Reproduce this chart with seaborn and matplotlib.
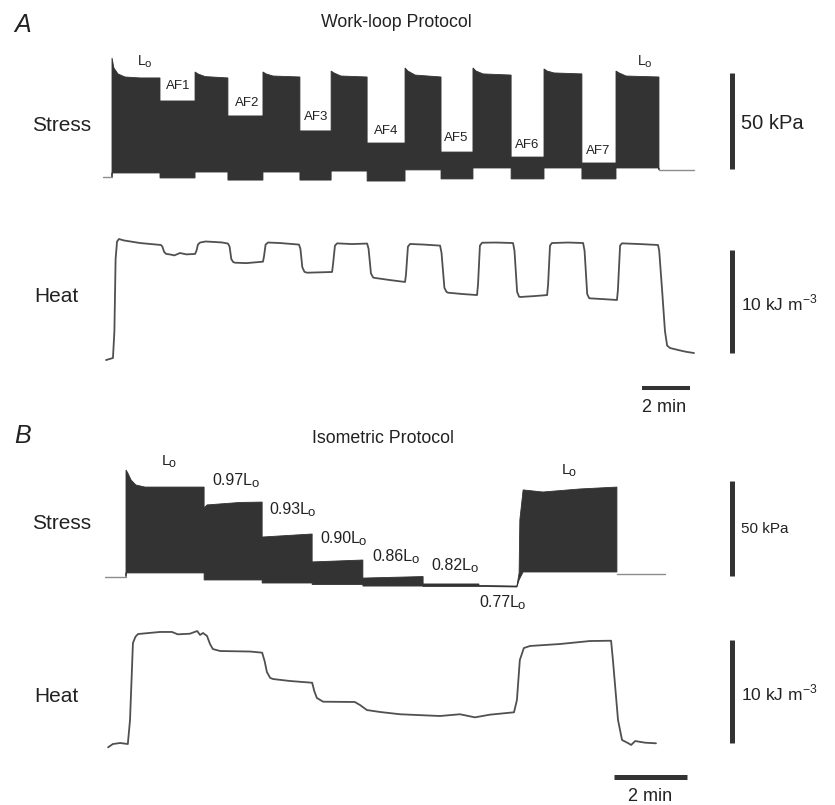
import matplotlib
matplotlib.use("Agg")
import matplotlib.pyplot as plt
import numpy as np
import pandas as pd
import seaborn as sns
from matplotlib.font_manager import FontProperties
from matplotlib.textpath import TextPath
from matplotlib.transforms import offset_copy

W, H = 835, 805

# ---------------- A: work-loop protocol ----------------
# stress envelope of the work loops, time in min, stress in kPa
wl_top_t = [0.0, 0.0, 0.08, 0.25, 0.54, 1.17, 2.0, 2.0, 3.46, 3.46, 3.58,
            3.88, 4.83, 4.83, 6.29, 6.29, 6.42, 6.71, 7.83, 7.83, 9.13, 9.13,
            9.25, 9.54, 10.63, 10.63, 12.21, 12.21, 12.33, 12.63, 13.71,
            13.71, 15.04, 15.04, 15.17, 15.46, 16.63, 16.63, 18.0, 18.0,
            18.13, 18.42, 19.58, 19.58, 21.0, 21.0, 21.13, 21.42, 22.79, 22.79]
wl_top_kpa = [2.6, 64.6, 59.4, 56.3, 54.7, 54.2, 54.2, 42.2, 42.2, 57.3,
              56.3, 54.9, 54.2, 34.4, 34.4, 57.3, 56.3, 55.2, 54.7, 26.6,
              26.6, 57.8, 56.8, 55.2, 54.7, 20.3, 20.3, 59.4, 57.8, 55.7,
              54.7, 15.6, 15.6, 59.4, 57.8, 56.3, 55.7, 13.0, 13.0, 58.9,
              57.8, 56.8, 56.3, 9.9, 9.9, 57.8, 56.8, 55.2, 54.7, 6.3]
wl_bot_t = [0.0, 0.0, 2.0, 2.0, 3.46, 3.46, 4.83, 4.83, 6.29, 6.29, 7.83,
            7.83, 9.13, 9.13, 10.63, 10.63, 12.21, 12.21, 13.71, 13.71, 15.04,
            15.04, 16.63, 16.63, 18.0, 18.0, 19.58, 19.58, 21.0, 21.0, 22.79,
            22.79]
wl_bot_kpa = [2.6, 4.7, 4.7, 2.1, 2.1, 5.2, 5.2, 1.0, 1.0, 5.2, 5.2, 1.0,
              1.0, 5.7, 5.7, 0.5, 0.5, 6.3, 6.3, 1.6, 1.6, 7.3, 7.3, 1.6, 1.6,
              7.3, 7.3, 1.6, 1.6, 7.3, 7.3, 6.3]
wl_pre_t, wl_pre_kpa = [-0.38, 0.0], [2.6, 2.6]
wl_post_t, wl_post_kpa = [22.79, 24.25], [6.3, 6.3]

# heat trace, kJ m^-3
wl_heat_t = [-0.25, 0.04, 0.1, 0.15, 0.21, 0.29, 0.5, 1.17, 2.04,
             2.1, 2.17, 2.25, 2.42, 2.6, 2.83, 3.1, 3.46,
             3.52, 3.58, 3.67, 3.9, 4.29, 4.6, 4.83,
             4.9, 4.97, 5.05, 5.13, 5.6, 6.29,
             6.33, 6.4, 6.5, 7.0, 7.79,
             7.85, 7.93, 8.02, 8.13, 8.6, 9.17,
             9.21, 9.29, 9.38, 10.0, 10.63,
             10.69, 10.79, 10.88, 10.96, 11.6, 12.21,
             12.25, 12.33, 12.42, 13.0, 13.67,
             13.73, 13.85, 13.94, 14.0, 14.6, 15.21,
             15.25, 15.33, 15.42, 16.0, 16.71,
             16.77, 16.88, 16.96, 17.0, 17.6, 18.13,
             18.17, 18.25, 18.33, 19.0, 19.63,
             19.69, 19.8, 19.88, 19.92, 20.5, 21.04,
             21.08, 21.17, 21.25, 22.0, 22.75,
             22.8, 22.92, 23.04, 23.13, 23.25, 23.58, 23.9, 24.25]
wl_heat = [0.19, 0.39, 3.0, 10.0, 11.7, 11.94, 11.8, 11.55, 11.36,
           11.2, 10.7, 10.5, 10.44, 10.35, 10.58, 10.45, 10.49,
           10.8, 11.4, 11.6, 11.7, 11.65, 11.6, 11.5,
           11.2, 10.0, 9.7, 9.64, 9.6, 9.74,
           10.2, 11.4, 11.6, 11.55, 11.4,
           11.0, 9.2, 8.75, 8.67, 8.7, 8.74,
           9.5, 11.3, 11.52, 11.45, 11.5,
           11.0, 8.6, 8.2, 8.16, 7.95, 7.77,
           8.5, 11.2, 11.46, 11.4, 11.3,
           10.6, 7.2, 6.8, 6.73, 6.6, 6.5,
           7.5, 11.3, 11.58, 11.6, 11.55,
           10.8, 6.8, 6.35, 6.31, 6.4, 6.5,
           7.5, 11.3, 11.55, 11.6, 11.55,
           10.8, 6.6, 6.2, 6.18, 6.1, 6.02,
           7.0, 11.3, 11.52, 11.45, 11.36,
           10.8, 7.0, 3.0, 1.6, 1.36, 1.17, 1.0, 0.87]
wl_af_labels = ["AF1", "AF2", "AF3", "AF4", "AF5", "AF6", "AF7"]

# ---------------- B: isometric protocol ----------------
iso_top_t = [0.0, 0.0, 0.05, 0.14, 0.27, 0.52, 2.14, 2.14, 2.22, 3.12, 3.73,
             3.73, 5.1, 5.1, 6.49, 6.49, 8.14, 8.14, 9.67, 9.67, 10.71, 10.77,
             10.79, 10.88, 11.42, 12.44, 13.45, 13.45]
iso_top_kpa = [5.4, 61.6, 60.0, 56.3, 53.7, 52.6, 52.6, 41.6, 43.2, 44.5,
               44.7, 26.3, 27.9, 13.2, 14.2, 4.7, 5.5, 1.6, 1.6, 0.8, 0.5,
               7.4, 35.3, 51.1, 50.0, 51.6, 52.6, 7.9]
iso_bot_t = [0.0, 0.0, 2.14, 2.14, 3.73, 3.73, 5.1, 5.1, 6.49, 6.49, 8.14,
             8.14, 9.67, 10.71, 10.77, 10.88, 13.45, 13.45]
iso_bot_kpa = [5.4, 7.4, 7.4, 3.7, 3.7, 2.1, 2.1, 1.3, 1.3, 0.5, 0.5, 0.3,
               0.3, 0.0, 3.7, 7.9, 7.9, 7.9]
iso_pre_t, iso_pre_kpa = [-0.58, 0.0], [5.4, 5.4]
iso_post_t, iso_post_kpa = [13.45, 14.77], [6.8, 6.8]

iso_heat_t = [-0.49, -0.36, -0.16, 0.05, 0.11, 0.19, 0.26, 0.33, 0.93, 1.26,
              1.42, 1.75, 1.95, 2.03, 2.11, 2.22, 2.3, 2.38, 2.58, 3.40, 3.73,
              3.8, 3.86, 3.95, 4.03, 4.49, 5.10, 5.16, 5.23, 5.40, 6.27,
              6.41, 6.60, 6.96, 7.51, 8.60, 9.15, 9.56, 9.97, 10.63, 10.71,
              10.79, 10.90, 11.07, 11.89, 12.71, 13.29, 13.34, 13.48, 13.59,
              13.75, 13.84, 13.95, 14.22, 14.52]
iso_heat = [0.26, 0.58, 0.68, 0.58, 2.9, 10.39, 11.0, 11.26, 11.46, 11.46,
            11.23, 11.29, 11.55, 11.17, 11.36, 11.07, 10.3, 9.8, 9.61, 9.56,
            9.45, 8.6, 7.57, 7.0, 6.89, 6.7, 6.53, 5.7, 5.05, 4.69, 4.66,
            4.37, 3.88, 3.69, 3.47, 3.30, 3.47, 3.17, 3.43, 3.66, 4.85,
            8.74, 9.9, 10.1, 10.29, 10.58, 10.61, 8.74, 2.91, 0.97,
            0.68, 0.49, 0.87, 0.71, 0.65]
iso_len_labels = ["0.97", "0.93", "0.90", "0.86", "0.82", "0.77"]

STRESS_BAR = 50.0   # kPa
HEAT_BAR = 10.0     # kJ m^-3
TIME_BAR = 2.0      # min

sns.set_style("white")
plt.rcParams["font.family"] = ["Liberation Sans", "DejaVu Sans"]
plt.rcParams["mathtext.fontset"] = "custom"
plt.rcParams["mathtext.rm"] = "Liberation Sans"

FILL = "#333333"
TRACE = "#505050"
BASE = "#8c8c8c"
BAR = "#333333"
INK = "#222222"

fig = plt.figure(figsize=(W / 100, H / 100), dpi=100)


def trace_axes(top_px, bot_px, t0_px, px_min, y0_px, px_unit):
    ax = fig.add_axes([0, 1 - bot_px / H, 1, (bot_px - top_px) / H])
    ax.set_xlim(-t0_px / px_min, (W - t0_px) / px_min)
    ax.set_ylim((y0_px - bot_px) / px_unit, (y0_px - top_px) / px_unit)
    ax.set_axis_off()
    return ax


def label(x, y, s, size, **kw):
    kw.setdefault("ha", "left")
    kw.setdefault("va", "baseline")
    fig.text(x / W, 1 - y / H, s, fontsize=size, color=INK, **kw)


def lo_label(x, y, prefix, size):
    # "L" with a dropped, slightly smaller "o" as in the journal figure
    s = prefix + "L"
    label(x, y, s, size)
    prop = FontProperties(family="Liberation Sans")
    w = TextPath((0, 0), s, size=size, prop=prop).get_extents().x1
    tr = offset_copy(fig.transFigure, fig=fig, x=w - 0.5, y=-size * 0.12,
                     units="points")
    fig.text(x / W, 1 - y / H, "o", fontsize=size * 0.82, color=INK,
             ha="left", va="baseline", transform=tr)


def stress(ax, top_t, top_v, bot_t, bot_v, pre, post):
    xs = np.concatenate([top_t, bot_t[::-1]])
    ys = np.concatenate([top_v, bot_v[::-1]])
    ax.fill(xs, ys, color=FILL, lw=0.6, ec=FILL)
    for t, v in (pre, post):
        sns.lineplot(x=t, y=v, ax=ax, color=BASE, lw=1.0, sort=False,
                     estimator=None)


def heat(ax, t, h):
    df = pd.DataFrame({"t": t, "h": h})
    sns.lineplot(data=df, x="t", y="h", ax=ax, color=TRACE, lw=1.3,
                 sort=False, estimator=None)


def vbar(ax, t, v0, length):
    ax.plot([t, t], [v0, v0 + length], color=BAR, lw=3.6,
            solid_capstyle="butt", clip_on=False)


def hbar(ax, t0, v, length, lw):
    ax.plot([t0, t0 + length], [v, v], color=BAR, lw=lw,
            solid_capstyle="butt", clip_on=False)


# panel A
axA1 = trace_axes(40, 200, 112, 24.0, 182, 1.92)
stress(axA1, wl_top_t, wl_top_kpa, wl_bot_t, wl_bot_kpa,
       (wl_pre_t, wl_pre_kpa), (wl_post_t, wl_post_kpa))
vbar(axA1, 25.83, 6.8, STRESS_BAR)

axA2 = trace_axes(222, 420, 112, 24.0, 362, 10.3)
heat(axA2, wl_heat_t, wl_heat)
vbar(axA2, 25.83, 0.87, HEAT_BAR)
hbar(axA2, 22.08, -2.52, TIME_BAR, 2.9)

# panel B
axB1 = trace_axes(440, 600, 126, 36.5, 587, 1.9)
stress(axB1, iso_top_t, iso_top_kpa, iso_bot_t, iso_bot_kpa,
       (iso_pre_t, iso_pre_kpa), (iso_post_t, iso_post_kpa))
vbar(axB1, 16.59, 5.79, STRESS_BAR)

axB2 = trace_axes(615, 805, 126, 36.5, 750, 10.3)
heat(axB2, iso_heat_t, iso_heat)
vbar(axB2, 16.6, 0.68, HEAT_BAR)
hbar(axB2, 13.37, -2.59, TIME_BAR, 3.6)

# text
label(14, 32, "A", 18, style="italic")
label(14, 443, "B", 18, style="italic")
label(396, 27, "Work-loop Protocol", 12.8, ha="center")
label(383, 443, "Isometric Protocol", 12.8, ha="center")
for y in (131, 529):
    label(32, y, "Stress", 15)
for y in (302, 702):
    label(34, y, "Heat", 15)

UNIT = r"10 kJ m$^{\mathregular{-3}}$"
lo_label(138, 65, "", 10)
lo_label(638, 65, "", 10)
af_x = [178.5, 246.7, 315.7, 385.7, 455.7, 527.3, 598.3]
af_y = [89, 105.7, 120, 134, 140.7, 147.7, 154.3]
for s, x, y in zip(wl_af_labels, af_x, af_y):
    label(x, y, s, 9.5, ha="center")

lo_label(161.7, 465, "", 11)
lo_label(561.7, 474, "", 11)
len_x = [212.7, 269, 320, 372.7, 431.7, 479]
len_y = [485, 514, 543.3, 560.7, 570, 606.7]
for s, x, y in zip(iso_len_labels, len_x, len_y):
    lo_label(x, y, s, 11.5)

label(741, 129, "50 kPa", 14.5)
label(741, 310, UNIT, 12.5)
label(741, 532.7, "50 kPa", 11)
label(741, 700.7, UNIT, 12.5)
label(664, 411.7, "2 min", 13, ha="center")
label(650, 801, "2 min", 13, ha="center")

fig.savefig("out.png", dpi=100)
